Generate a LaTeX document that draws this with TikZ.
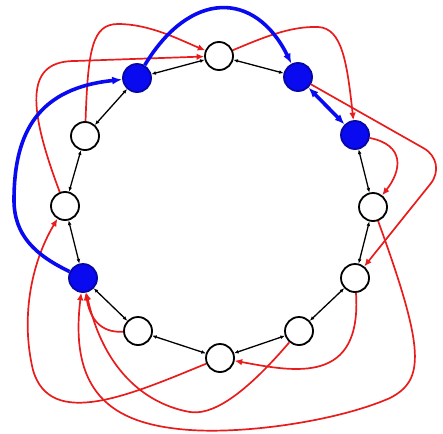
\documentclass[tikz,border=0pt]{standalone}
\usetikzlibrary{arrows.meta,shadows}
\definecolor{lnk}{RGB}{232,28,28}
\definecolor{hop}{RGB}{10,10,240}
\begin{document}
\begin{tikzpicture}[x=1pt,y=-1pt,
  peer/.style={circle,draw=black,line width=1.8pt,fill=white,minimum size=28pt,inner sep=0pt,
    drop shadow={opacity=0.35,shadow xshift=0.8pt,shadow yshift=-0.8pt}},
  hub/.style={peer,fill=hop,draw=hop!70!black},
  ringedge/.style={line width=1.3pt,black,{Latex[length=4.5pt,width=3.8pt]}-{Latex[length=4.5pt,width=3.8pt]}},
  longlink/.style={line width=1.7pt,lnk,-{Latex[length=7.5pt,width=6.5pt]}},
  route/.style={line width=3.6pt,hop,-{Latex[length=10pt,width=8pt]}}]
\useasboundingbox (0,0) rectangle (443,433);
% nodes
\node[peer] (n1) at (219,56) {};
\node[hub]  (n2) at (298,77) {};
\node[hub]  (n3) at (355,135) {};
\node[peer] (n4) at (373,207) {};
\node[peer] (n5) at (355,278) {};
\node[peer] (n6) at (299,331) {};
\node[peer] (n7) at (220,358) {};
\node[peer] (n8) at (138,331) {};
\node[hub]  (n9) at (83,278) {};
\node[peer] (n10) at (65,206) {};
\node[peer] (n11) at (85,136) {};
\node[hub]  (n12) at (137,78) {};
% ring edges
\draw[ringedge] (n1) -- (n2);
\draw[ringedge] (n3) -- (n4);
\draw[ringedge] (n4) -- (n5);
\draw[ringedge] (n5) -- (n6);
\draw[ringedge] (n6) -- (n7);
\draw[ringedge] (n7) -- (n8);
\draw[ringedge] (n8) -- (n9);
\draw[ringedge] (n9) -- (n10);
\draw[ringedge] (n10) -- (n11);
\draw[ringedge] (n11) -- (n12);
\draw[ringedge] (n12) -- (n1);
% red long links
\draw[longlink] (n10) .. controls (25,100) and (28,61) .. (75,61) -- (n1);
\draw[longlink] (n11) .. controls (88,50) and (92,24) .. (118,24) .. controls (150,24) and (180,40) .. (n1);
\draw[longlink] (n1) .. controls (262,38) and (290,26) .. (318,27) .. controls (342,28) and (347,62) .. (n3);
\draw[longlink,rounded corners=28pt] (n2) -- (448,162) -- (n5);
\draw[longlink] (n3) .. controls (405,145) and (402,170) .. (n4);
\draw[longlink] (n4) .. controls (425,350) and (425,380) .. (390,398) .. controls (340,420) and (250,434) .. (190,430) .. controls (120,425) and (68,400) .. (n9);
\draw[longlink] (n5) .. controls (362,385) and (295,372) .. (n7);
\draw[longlink] (n6) .. controls (240,400) and (210,415) .. (190,412) .. controls (150,405) and (105,375) .. (n9);
\draw[longlink] (n7) .. controls (130,395) and (50,430) .. (33,370) .. controls (21,320) and (30,265) .. (n10);
\draw[longlink] (n8) .. controls (100,333) and (90,318) .. (n9);
% blue route
\draw[route] (n9) .. controls (35,255) and (14,235) .. (14,200) .. controls (14,130) and (40,88) .. (n12);
\draw[route] (n12) .. controls (190,-10) and (255,-10) .. (n2);
\draw[route,{Latex[length=10pt,width=8pt]}-{Latex[length=10pt,width=8pt]}] (n2) -- (n3);
\end{tikzpicture}
\end{document}
